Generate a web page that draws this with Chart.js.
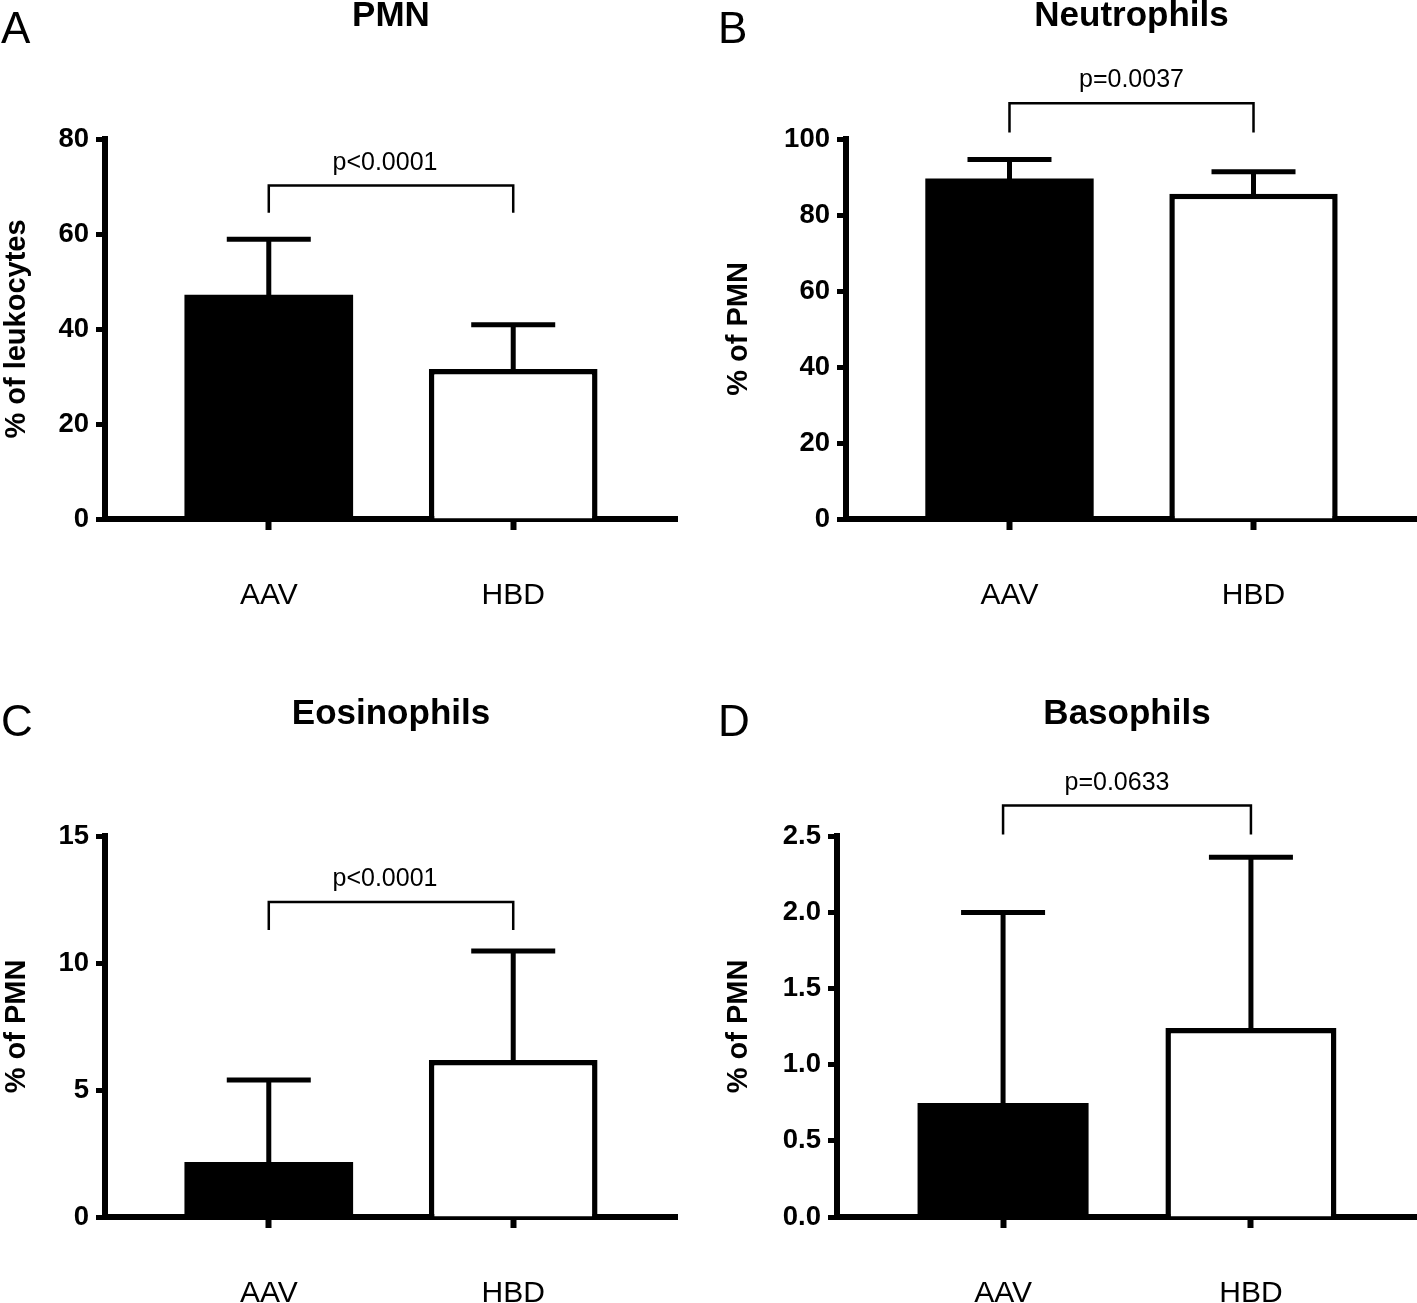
<!DOCTYPE html>
<html><head><meta charset="utf-8">
<script src="https://cdn.jsdelivr.net/npm/chart.js@4/dist/chart.umd.min.js"></script>
<style>
html,body{margin:0;padding:0;background:#fff;}
#wrap{position:relative;width:1417px;height:1303px;overflow:hidden;background:#fff;}
canvas{position:absolute;}
</style></head><body>
<div id="wrap">
<canvas id="cA" width="710" height="697" style="left:0px;top:0px"></canvas>
<canvas id="cB" width="707" height="697" style="left:710px;top:0px"></canvas>
<canvas id="cC" width="710" height="606" style="left:0px;top:697px"></canvas>
<canvas id="cD" width="707" height="606" style="left:710px;top:697px"></canvas>
</div>
<script>
// ---- data ----
const categories = ['AAV', 'HBD'];
const pmnMean = [47.2, 31.6];
const pmnSD = [11.7, 9.3];
const neutroMean = [89.6, 85.6];
const neutroSD = [5.0, 5.8];
const eosMean = [2.17, 6.18];
const eosSD = [3.22, 4.29];
const basoMean = [0.748, 1.24];
const basoSD = [1.25, 1.12];
const pmnTicks = [0, 20, 40, 60, 80];
const neutroTicks = [0, 20, 40, 60, 80, 100];
const eosTicks = [0, 5, 10, 15];
const basoTicks = [0, 0.5, 1.0, 1.5, 2.0, 2.5];
const pValues = ['p<0.0001', 'p=0.0037', 'p<0.0001', 'p=0.0633'];
const bracketLevels = [70.2, 109.4, 12.4, 2.70];
const bracketLegEnds = [64.5, 101.7, 11.3, 2.51];
const panelTitles = ['PMN', 'Neutrophils', 'Eosinophils', 'Basophils'];
const panelLetters = ['A', 'B', 'C', 'D'];
const yTitles = ['% of leukocytes', '% of PMN', '% of PMN', '% of PMN'];

const FONT = '"Liberation Sans", Arial, Helvetica, sans-serif';
Chart.defaults.font.family = FONT;
Chart.defaults.color = '#000';

const annot = {
  id: 'annot',
  afterDraw(chart, args, o) {
    const ctx = chart.ctx;
    const ys = chart.scales.y;
    const meta = chart.getDatasetMeta(0);
    ctx.save();
    ctx.fillStyle = '#000';
    ctx.strokeStyle = '#000';
    ctx.lineCap = 'butt';
    // error bars (mean + SD)
    o.mean.forEach((v, i) => {
      const x = meta.data[i].x;
      const yBar = ys.getPixelForValue(v);
      const yTop = ys.getPixelForValue(v + o.sd[i]);
      ctx.lineWidth = 5;
      ctx.beginPath(); ctx.moveTo(x, yBar + 3); ctx.lineTo(x, yTop); ctx.stroke();
      ctx.beginPath(); ctx.moveTo(x - 42, yTop); ctx.lineTo(x + 42, yTop); ctx.stroke();
    });
    // significance bracket
    const x1 = meta.data[0].x, x2 = meta.data[1].x;
    const yb = ys.getPixelForValue(o.level), yl = ys.getPixelForValue(o.leg);
    ctx.lineWidth = 2.5;
    ctx.lineJoin = 'miter';
    ctx.beginPath(); ctx.moveTo(x1, yl); ctx.lineTo(x1, yb); ctx.lineTo(x2, yb); ctx.lineTo(x2, yl); ctx.stroke();
    ctx.font = '25px ' + FONT;
    ctx.textAlign = 'center';
    ctx.textBaseline = 'alphabetic';
    ctx.fillText(o.p, (x1 + x2) / 2 + o.pShift, yb - 16);
    // panel title
    ctx.font = 'bold 35px ' + FONT;
    ctx.fillText(o.title, (x1 + x2) / 2, o.titleY);
    // panel letter
    ctx.font = '44px ' + FONT;
    ctx.textAlign = 'left';
    ctx.fillText(o.letter, o.letterX, o.letterY);
    ctx.restore();
  }
};

function makeChart(id, cfg) {
  return new Chart(document.getElementById(id), {
    type: 'bar',
    data: {
      datasets: [{
        data: cfg.mean.map((v, i) => ({ x: i + 1, y: v })),
        backgroundColor: ['#000', '#fff'],
        borderColor: '#000',
        borderWidth: [0, 5.5],
        borderSkipped: 'start',
        barPercentage: 0.69,
        categoryPercentage: 1
      }]
    },
    options: {
      responsive: false,
      animation: false,
      devicePixelRatio: 1,
      layout: { padding: { top: 139, left: 0, right: cfg.padRight, bottom: 0 } },
      plugins: {
        legend: { display: false },
        tooltip: { enabled: false },
        title: { display: false },
        annot: {
          mean: cfg.mean, sd: cfg.sd, level: cfg.level, leg: cfg.leg, p: cfg.p, pShift: cfg.pShift,
          title: cfg.title, titleY: cfg.titleY, letter: cfg.letter, letterX: cfg.letterX, letterY: cfg.letterY
        }
      },
      scales: {
        x: {
          type: 'linear', min: 0.33, max: 2.67, offset: false, z: 1,
          afterBuildTicks: s => { s.ticks = categories.map((c, i) => ({ value: i + 1 })); },
          afterFit: s => { s.height = cfg.xHeight; },
          grid: { display: true, drawOnChartArea: false, drawTicks: true, tickLength: 11, tickWidth: 6, tickColor: '#000', offset: false },
          border: { display: true, width: 6, color: '#000' },
          ticks: { callback: (v, i) => categories[i], font: { size: 30 }, color: '#000', padding: 48, maxRotation: 0, autoSkip: false }
        },
        y: {
          min: 0, max: cfg.max, z: 1,
          afterBuildTicks: s => { s.ticks = cfg.ticks.map(v => ({ value: v })); },
          afterFit: s => { s.width = cfg.yWidth; },
          grid: { drawOnChartArea: false, drawTicks: true, tickLength: 9, tickWidth: 5, tickColor: '#000' },
          border: { display: true, width: 6, color: '#000' },
          ticks: { font: { size: 27.5, weight: 'bold' }, color: '#000', padding: 7, callback: v => cfg.fmt(v) },
          title: { display: true, text: cfg.yTitle, font: { size: 29, weight: 'bold' }, color: '#000', padding: { top: cfg.titlePad, bottom: 0 } }
        }
      }
    },
    plugins: [annot]
  });
}

const intFmt = v => String(Math.round(v));
const decFmt = v => v.toFixed(1);

makeChart('cA', { mean: pmnMean, sd: pmnSD, ticks: pmnTicks, max: 80, fmt: intFmt,
  level: bracketLevels[0], leg: bracketLegEnds[0], p: pValues[0], pShift: -6, title: panelTitles[0], letter: panelLetters[0],
  yTitle: yTitles[0], yWidth: 105, padRight: 33, xHeight: 178, titlePad: 0, titleY: 26, letterX: 1, letterY: 43 });
makeChart('cB', { mean: neutroMean, sd: neutroSD, ticks: neutroTicks, max: 100, fmt: intFmt,
  level: bracketLevels[1], leg: bracketLegEnds[1], p: pValues[1], pShift: 0, title: panelTitles[1], letter: panelLetters[1],
  yTitle: yTitles[1], yWidth: 136, padRight: 0, xHeight: 178, titlePad: 12, titleY: 26, letterX: 8, letterY: 43 });
makeChart('cC', { mean: eosMean, sd: eosSD, ticks: eosTicks, max: 15, fmt: intFmt,
  level: bracketLevels[2], leg: bracketLegEnds[2], p: pValues[2], pShift: -6, title: panelTitles[2], letter: panelLetters[2],
  yTitle: yTitles[2], yWidth: 105, padRight: 33, xHeight: 86, titlePad: 0, titleY: 27, letterX: 1, letterY: 39 });
makeChart('cD', { mean: basoMean, sd: basoSD, ticks: basoTicks, max: 2.5, fmt: decFmt,
  level: bracketLevels[3], leg: bracketLegEnds[3], p: pValues[3], pShift: -10, title: panelTitles[3], letter: panelLetters[3],
  yTitle: yTitles[3], yWidth: 127, padRight: 0, xHeight: 86, titlePad: 12, titleY: 27, letterX: 8, letterY: 39 });
</script>
</body></html>
